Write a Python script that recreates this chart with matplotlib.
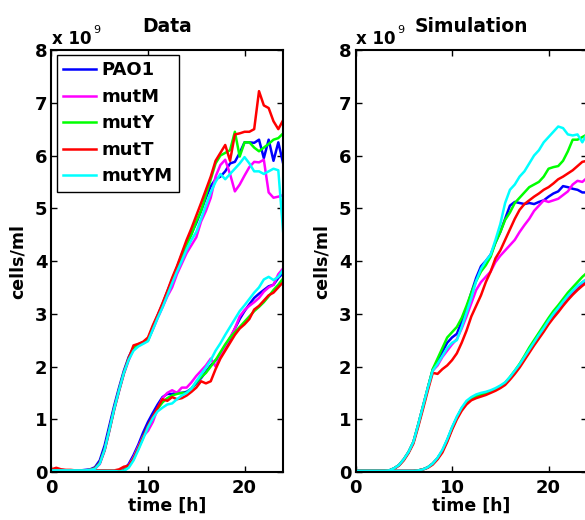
import matplotlib.pyplot as plt
import numpy as np

plt.rcParams['font.family'] = ['DejaVu Sans']
plt.rcParams['font.weight'] = 'bold'

# sampling times [h]
hours = np.arange(0, 24.5, 0.5)

strains = ['PAO1', 'mutM', 'mutY', 'mutT', 'mutYM']
colors = ['#0000ff', '#ff00ff', '#00ff00', '#ff0000', '#00ffff']

# ---- measured growth curves, 1e9 cells/ml (high and low inoculum) ----
data_pao1_hi = [0.04, 0.04, 0.04, 0.03, 0.03, 0.03, 0.03, 0.04, 0.05,
                0.09, 0.22, 0.50, 0.88, 1.26, 1.60, 1.92, 2.18, 2.36, 2.42, 2.46,
                2.52, 2.75, 2.97, 3.18, 3.42, 3.65, 3.88, 4.12, 4.35, 4.52, 4.72,
                4.95, 5.20, 5.42, 5.55, 5.60, 5.70, 5.85, 5.88, 6.05, 6.25, 6.25,
                6.24, 6.30, 5.95, 6.30, 5.90, 6.25, 5.85]
data_mutM_hi = [0.04, 0.04, 0.03, 0.03, 0.03, 0.03, 0.03, 0.03, 0.04,
                0.06, 0.15, 0.40, 0.78, 1.18, 1.53, 1.86, 2.12, 2.33, 2.40, 2.44,
                2.50, 2.70, 2.92, 3.12, 3.33, 3.50, 3.75, 3.95, 4.15, 4.30, 4.45,
                4.75, 4.95, 5.20, 5.60, 5.82, 5.92, 5.65, 5.32, 5.45, 5.62, 5.78,
                5.88, 5.87, 5.92, 5.30, 5.20, 5.22, 5.25]
data_mutY_hi = [0.04, 0.04, 0.03, 0.03, 0.03, 0.03, 0.03, 0.03, 0.04,
                0.07, 0.17, 0.42, 0.80, 1.20, 1.55, 1.88, 2.15, 2.34, 2.42, 2.45,
                2.50, 2.72, 2.95, 3.15, 3.38, 3.62, 3.85, 4.08, 4.30, 4.50, 4.75,
                4.95, 5.25, 5.55, 5.85, 6.00, 6.05, 6.10, 6.45, 5.98, 6.25, 6.25,
                6.15, 6.08, 6.15, 6.22, 6.30, 6.33, 6.42]
data_mutT_hi = [0.05, 0.08, 0.05, 0.04, 0.04, 0.03, 0.03, 0.03, 0.04,
                0.07, 0.17, 0.42, 0.80, 1.20, 1.55, 1.88, 2.16, 2.40, 2.43, 2.47,
                2.55, 2.78, 2.98, 3.20, 3.43, 3.68, 3.90, 4.15, 4.40, 4.62, 4.86,
                5.10, 5.35, 5.60, 5.90, 6.05, 6.20, 5.90, 6.40, 6.42, 6.45, 6.45,
                6.50, 7.22, 6.95, 6.90, 6.65, 6.50, 6.67]
data_mutYM_hi = [0.03, 0.03, 0.03, 0.03, 0.03, 0.03, 0.03, 0.03, 0.04,
                 0.06, 0.16, 0.42, 0.80, 1.20, 1.55, 1.88, 2.13, 2.30, 2.38, 2.43,
                 2.48, 2.70, 2.92, 3.12, 3.35, 3.58, 3.80, 4.00, 4.22, 4.40, 4.55,
                 4.80, 5.05, 5.30, 5.50, 5.65, 5.55, 5.65, 5.75, 5.85, 5.97, 5.85,
                 5.70, 5.70, 5.65, 5.70, 5.75, 5.72, 4.55]

data_pao1_lo = [0.02, 0.02, 0.02, 0.02, 0.02, 0.02, 0.02, 0.02, 0.02, 0.02, 0.02, 0.02, 0.01, 0.01,
                0.01, 0.05, 0.15, 0.32, 0.52, 0.75, 0.95, 1.12, 1.28, 1.42, 1.48, 1.48,
                1.50, 1.50, 1.52, 1.58, 1.68, 1.78, 1.90, 2.02, 2.12, 2.20, 2.35, 2.52,
                2.72, 2.90, 3.05, 3.18, 3.30, 3.38, 3.45, 3.52, 3.55, 3.68, 3.77]
data_mutM_lo = [0.02, 0.02, 0.02, 0.02, 0.02, 0.02, 0.02, 0.02, 0.02, 0.02, 0.02, 0.02, 0.02, 0.02,
                0.02, 0.04, 0.12, 0.28, 0.48, 0.68, 0.78, 0.95, 1.20, 1.40, 1.50, 1.55,
                1.50, 1.60, 1.60, 1.70, 1.82, 1.92, 2.02, 2.15, 2.00, 2.20, 2.38, 2.55,
                2.72, 2.95, 3.07, 3.15, 3.22, 3.30, 3.42, 3.50, 3.55, 3.75, 3.86]
data_mutY_lo = [0.02, 0.02, 0.02, 0.02, 0.02, 0.02, 0.02, 0.02, 0.02, 0.02, 0.02, 0.02, 0.02, 0.02,
                0.01, 0.03, 0.10, 0.25, 0.45, 0.66, 0.85, 1.02, 1.20, 1.32, 1.40, 1.45,
                1.48, 1.50, 1.50, 1.58, 1.70, 1.80, 1.88, 2.00, 2.12, 2.27, 2.42, 2.55,
                2.65, 2.75, 2.85, 2.95, 3.05, 3.13, 3.22, 3.33, 3.45, 3.55, 3.67]
data_mutT_lo = [0.03, 0.03, 0.03, 0.03, 0.03, 0.03, 0.03, 0.03, 0.03, 0.03, 0.03, 0.03, 0.03, 0.03,
                0.05, 0.10, 0.12, 0.25, 0.45, 0.66, 0.88, 1.05, 1.22, 1.38, 1.35, 1.42,
                1.38, 1.40, 1.45, 1.52, 1.60, 1.72, 1.68, 1.72, 1.95, 2.15, 2.30, 2.45,
                2.60, 2.72, 2.80, 2.90, 3.08, 3.15, 3.25, 3.35, 3.40, 3.50, 3.60]
data_mutYM_lo = [0.02, 0.02, 0.02, 0.02, 0.02, 0.02, 0.02, 0.02, 0.02, 0.02, 0.02, 0.02, 0.02, 0.02,
                 0.01, 0.02, 0.08, 0.22, 0.42, 0.63, 0.85, 1.02, 1.15, 1.22, 1.28, 1.30,
                 1.38, 1.45, 1.50, 1.58, 1.72, 1.85, 1.98, 2.12, 2.30, 2.44, 2.60, 2.75,
                 2.90, 3.05, 3.16, 3.28, 3.40, 3.50, 3.65, 3.70, 3.64, 3.70, 3.83]

# ---- model runs, 1e9 cells/ml ----
sim_pao1_hi = [0.02, 0.02, 0.02, 0.02, 0.02, 0.02, 0.02, 0.03, 0.07,
               0.13, 0.24, 0.38, 0.57, 0.90, 1.25, 1.60, 1.94,
               2.10, 2.28, 2.45, 2.55, 2.62, 2.85, 3.10, 3.40, 3.68, 3.90, 4.00, 4.12,
               4.35, 4.55, 4.80, 5.05, 5.12, 5.10, 5.08, 5.10, 5.08, 5.12, 5.15,
               5.22, 5.28, 5.32, 5.42, 5.40, 5.37, 5.35, 5.30, 5.30]
sim_mutM_hi = [0.02, 0.02, 0.02, 0.02, 0.02, 0.02, 0.02, 0.03, 0.07,
               0.13, 0.24, 0.38, 0.57, 0.90, 1.25, 1.60, 1.92,
               2.02, 2.18, 2.30, 2.42, 2.52, 2.72, 2.95, 3.20, 3.45, 3.60, 3.70, 3.80,
               3.98, 4.10, 4.20, 4.30, 4.40, 4.55, 4.68, 4.80, 4.95, 5.05, 5.15,
               5.12, 5.15, 5.18, 5.25, 5.32, 5.45, 5.52, 5.50, 5.58]
sim_mutY_hi = [0.02, 0.02, 0.02, 0.02, 0.02, 0.02, 0.02, 0.03, 0.07,
               0.13, 0.24, 0.38, 0.57, 0.90, 1.25, 1.60, 1.95,
               2.15, 2.35, 2.55, 2.65, 2.75, 2.92, 3.15, 3.40, 3.62, 3.80, 3.92, 4.08,
               4.35, 4.55, 4.78, 4.92, 5.10, 5.20, 5.30, 5.40, 5.45, 5.50, 5.60,
               5.75, 5.78, 5.80, 5.90, 6.08, 6.30, 6.30, 6.35, 6.40]
sim_mutT_hi = [0.02, 0.02, 0.02, 0.02, 0.02, 0.02, 0.02, 0.03, 0.06,
               0.12, 0.22, 0.36, 0.54, 0.86, 1.20, 1.55, 1.88,
               1.86, 1.95, 2.02, 2.12, 2.25, 2.45, 2.68, 2.95, 3.15, 3.35, 3.60, 3.80,
               4.05, 4.20, 4.40, 4.60, 4.80, 4.97, 5.08, 5.15, 5.22, 5.28, 5.35,
               5.40, 5.47, 5.55, 5.60, 5.66, 5.72, 5.80, 5.88, 5.90]
sim_mutYM_hi = [0.02, 0.02, 0.02, 0.02, 0.02, 0.02, 0.02, 0.03, 0.07,
                0.13, 0.24, 0.38, 0.57, 0.90, 1.25, 1.60, 1.92,
                2.05, 2.20, 2.35, 2.45, 2.50, 2.75, 3.02, 3.30, 3.62, 3.85, 4.00, 4.12,
                4.40, 4.70, 5.10, 5.35, 5.45, 5.60, 5.70, 5.85, 6.00, 6.10, 6.25,
                6.35, 6.45, 6.55, 6.52, 6.40, 6.38, 6.40, 6.25, 6.42]

sim_pao1_lo = [0.02, 0.02, 0.02, 0.02, 0.02, 0.02, 0.02, 0.02, 0.02, 0.02, 0.02, 0.02, 0.02,
               0.03, 0.05, 0.09, 0.16, 0.26, 0.40, 0.60, 0.83, 1.03, 1.20, 1.32, 1.40,
               1.44, 1.47, 1.50, 1.53, 1.57, 1.62, 1.68, 1.78, 1.90, 2.02, 2.16, 2.30,
               2.44, 2.57, 2.70, 2.84, 2.97, 3.08, 3.20, 3.31, 3.41, 3.50, 3.58, 3.65]
sim_mutM_lo = [0.02, 0.02, 0.02, 0.02, 0.02, 0.02, 0.02, 0.02, 0.02, 0.02, 0.02, 0.02, 0.02,
               0.03, 0.05, 0.09, 0.16, 0.26, 0.40, 0.60, 0.83, 1.03, 1.20, 1.32, 1.40,
               1.44, 1.47, 1.50, 1.53, 1.57, 1.62, 1.68, 1.78, 1.90, 2.03, 2.17, 2.31,
               2.45, 2.58, 2.72, 2.86, 2.99, 3.10, 3.22, 3.33, 3.43, 3.52, 3.60, 3.66]
sim_mutY_lo = [0.02, 0.02, 0.02, 0.02, 0.02, 0.02, 0.02, 0.02, 0.02, 0.02, 0.02, 0.02, 0.02,
               0.03, 0.05, 0.09, 0.16, 0.26, 0.40, 0.60, 0.83, 1.03, 1.20, 1.32, 1.40,
               1.44, 1.47, 1.50, 1.53, 1.57, 1.62, 1.69, 1.80, 1.92, 2.05, 2.20, 2.36,
               2.50, 2.64, 2.78, 2.92, 3.05, 3.16, 3.28, 3.40, 3.50, 3.60, 3.70, 3.78]
sim_mutT_lo = [0.02, 0.02, 0.02, 0.02, 0.02, 0.02, 0.02, 0.02, 0.02, 0.02, 0.02, 0.02, 0.02,
               0.03, 0.05, 0.08, 0.14, 0.24, 0.37, 0.57, 0.80, 1.00, 1.16, 1.28, 1.36,
               1.40, 1.43, 1.46, 1.50, 1.54, 1.59, 1.65, 1.75, 1.86, 1.98, 2.12, 2.26,
               2.40, 2.53, 2.66, 2.80, 2.92, 3.03, 3.15, 3.26, 3.36, 3.45, 3.53, 3.60]
sim_mutYM_lo = [0.02, 0.02, 0.02, 0.02, 0.02, 0.02, 0.02, 0.02, 0.02, 0.02, 0.02, 0.02, 0.02,
                0.03, 0.05, 0.09, 0.16, 0.27, 0.42, 0.62, 0.85, 1.05, 1.22, 1.35, 1.42,
                1.47, 1.50, 1.52, 1.55, 1.59, 1.64, 1.70, 1.80, 1.92, 2.04, 2.18, 2.32,
                2.46, 2.60, 2.73, 2.87, 3.00, 3.11, 3.23, 3.34, 3.44, 3.53, 3.60, 3.66]

data_hi = [data_pao1_hi, data_mutM_hi, data_mutY_hi, data_mutT_hi, data_mutYM_hi]
data_lo = [data_pao1_lo, data_mutM_lo, data_mutY_lo, data_mutT_lo, data_mutYM_lo]
sim_hi = [sim_pao1_hi, sim_mutM_hi, sim_mutY_hi, sim_mutT_hi, sim_mutYM_hi]
sim_lo = [sim_pao1_lo, sim_mutM_lo, sim_mutY_lo, sim_mutT_lo, sim_mutYM_lo]


def style_axes(ax, title):
    ax.set_xlim(0, 24)
    ax.set_ylim(0, 8)
    ax.set_xticks([0, 10, 20])
    ax.set_yticks(range(9))
    ax.tick_params(direction='in', length=4, width=1, labelsize=13,
                   top=True, right=True)
    ax.tick_params(axis='x', pad=5)
    ax.tick_params(axis='y', pad=3)
    for sp in ax.spines.values():
        sp.set_linewidth(1.5)
    ax.set_xlabel('time [h]', fontsize=12.5, fontweight='bold')
    ax.set_ylabel('cells/ml', fontsize=12.5, fontweight='bold')
    ax.xaxis.set_label_coords(0.5, -0.058)
    ax.yaxis.set_label_coords(-0.105, 0.5)
    ax.set_title(title, fontsize=13.5, fontweight='bold', pad=13)
    # MATLAB-style exponent label
    base = ax.text(0.002, 1.014, 'x 10', transform=ax.transAxes,
                   fontsize=12, fontweight='bold', ha='left', va='baseline')
    ax.annotate('9', xy=(1.0, 1.0), xycoords=base, xytext=(1, 0),
                textcoords='offset points', ha='left', va='center',
                fontsize=8, fontweight='normal')


fig = plt.figure(figsize=(5.85, 5.2), dpi=100)
ax_data = fig.add_axes([0.088, 0.0923, 0.396, 0.8115])
ax_sim = fig.add_axes([0.6077, 0.0923, 0.396, 0.8115])

handles = []
for hi, lo, c in zip(data_hi, data_lo, colors):
    h, = ax_data.plot(hours, hi, color=c, lw=1.8)
    ax_data.plot(hours, lo, color=c, lw=1.8)
    handles.append(h)

for hi, lo, c in zip(sim_hi, sim_lo, colors):
    ax_sim.plot(hours, hi, color=c, lw=1.8)
    ax_sim.plot(hours, lo, color=c, lw=1.8)

style_axes(ax_data, 'Data')
style_axes(ax_sim, 'Simulation')

leg = ax_data.legend(handles, strains, loc='upper left',
                     bbox_to_anchor=(0.024, 0.988), borderaxespad=0,
                     prop={'weight': 'bold', 'size': 13}, handlelength=1.8,
                     handletextpad=0.3, labelspacing=0.47, borderpad=0.35,
                     fancybox=False, edgecolor='black', framealpha=1)
leg.get_frame().set_linewidth(1.0)

fig.savefig('out.png', dpi=100)
